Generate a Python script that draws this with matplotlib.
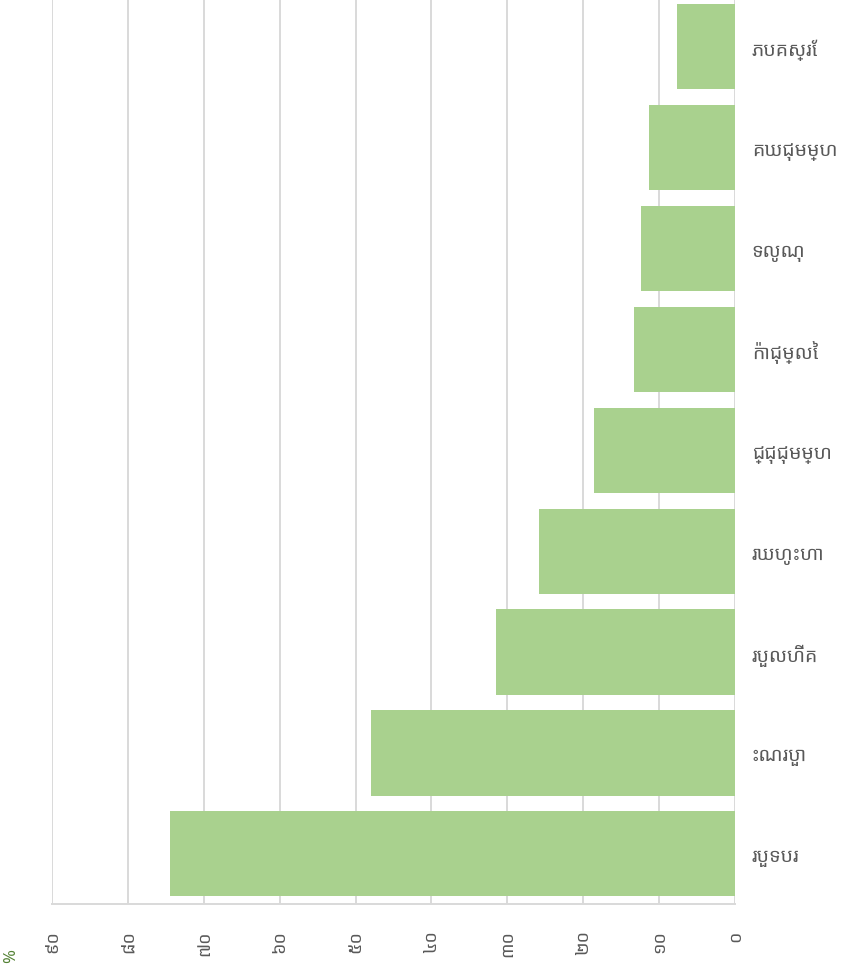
import matplotlib
matplotlib.use("Agg")
import matplotlib.pyplot as plt

plt.rcParams["font.family"] = ["Noto Sans Khmer", "DejaVu Sans"]

# category labels as they read on the picture, top bar first
categories = ["ភបគស្រែ", "គឃជុមម្ហ", "ទលូណុ", "ក៉ាជុម្លៃ", "ជ្ជុជុមម្ហ",
              "រឃហូះហា", "របួលហ៊ីគ", "ះណរបួា", "របួទបរ"]
values = [7.6, 11.3, 12.4, 13.3, 18.6, 25.8, 31.5, 48.0, 74.4]
ticks = [0, 10, 20, 30, 40, 50, 60, 70, 80, 90]
tick_labels = ["០", "១០", "២០", "៣០", "៤០", "៥០", "៦០", "៧០", "៨០", "៩០"]

fig = plt.figure(figsize=(8.46, 9.78), dpi=100)
ax = fig.add_axes([0.0615, 0.0744, 0.8073, 0.9283])

pos = list(range(len(categories)))
ax.barh(pos, values, height=0.845, color="#A9D18E", zorder=2)
ax.set_xlim(90, 0)
ax.set_ylim(len(categories) - 0.5, -0.5)

ax.set_xticks(ticks)
ax.set_xticklabels(tick_labels, rotation=90, va="top", color="#595959", fontsize=13)
ax.tick_params(axis="x", length=0, pad=18)
ax.grid(axis="x", color="#D9D9D9", linewidth=1.4, zorder=0)

ax.yaxis.tick_right()
ax.set_yticks(pos)
ax.set_yticklabels(categories, color="#595959", fontsize=14)
ax.tick_params(axis="y", length=0, pad=12)

for s in ["top", "left", "right"]:
    ax.spines[s].set_visible(False)
ax.spines["bottom"].set_color("#D9D9D9")
ax.spines["bottom"].set_linewidth(1.4)

fig.text(0.013, 0.022, "%", rotation=90, color="#548235", fontsize=12,
         ha="center", va="center")

fig.savefig("out.png")
